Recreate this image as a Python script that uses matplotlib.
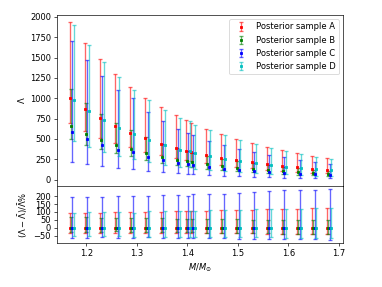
import numpy as np
import matplotlib
matplotlib.use("Agg")
import matplotlib.pyplot as plt
from matplotlib.colors import to_rgba

masses = [1.17, 1.20, 1.23, 1.26, 1.29, 1.32, 1.35, 1.38, 1.40, 1.41,
          1.44, 1.47, 1.50, 1.53, 1.56, 1.59, 1.62, 1.65, 1.68]
labels = ["Posterior sample A", "Posterior sample B",
          "Posterior sample C", "Posterior sample D"]
colors = ["r", "g", "b", "c"]
offsets = [-0.003, -0.001, 0.002, 0.005]

# medians of Lambda for each sample
med_A = [1004, 868, 757, 658, 576, 506, 440, 387, 355, 339, 301, 269, 237, 212, 188, 168, 150, 132, 120]
med_B = [658, 564, 490, 420, 379, 325, 275, 244, 222, 212, 188, 168, 148, 132, 117, 104, 93, 82, 74]
med_C = [584, 502, 428, 366, 337, 275, 235, 201, 190, 173, 154, 135, 118, 104, 92, 81, 72, 63, 57]
med_D = [975, 840, 728, 630, 564, 481, 420, 368, 345, 322, 286, 256, 225, 201, 179, 160, 142, 125, 114]

# relative upper / lower bounds in percent
up_A = [93, 94, 96, 97, 98, 99, 102, 104, 105, 106, 108, 110, 112, 114, 116, 118, 120, 122, 124]
lo_A = [-31, -31, -32, -31, -31, -33, -31, -32, -33, -33, -34, -34, -35, -35, -36, -36, -37, -37, -38]
up_B = [69, 68, 65, 65, 62, 60, 60, 58, 57, 56, 55, 54, 53, 52, 52, 51, 51, 50, 50]
lo_B = [-24, -25, -24, -23, -25, -25, -24, -26, -27, -28, -30, -31, -33, -34, -35, -36, -38, -39, -40]
up_C = [192, 194, 197, 200, 198, 202, 205, 207, 203, 214, 210, 216, 222, 226, 231, 237, 237, 241, 245]
lo_C = [-62, -62, -60, -61, -62, -60, -62, -62, -63, -64, -66, -67, -68, -69, -70, -71, -72, -73, -75]
up_D = [95, 97, 98, 100, 96, 103, 105, 106, 107, 108, 111, 113, 115, 116, 118, 119, 121, 122, 123]
lo_D = [-52, -53, -54, -54, -55, -56, -56, -57, -57, -58, -58, -59, -59, -60, -60, -61, -61, -62, -62]

meds = [med_A, med_B, med_C, med_D]
ups = [up_A, up_B, up_C, up_D]
los = [lo_A, lo_B, lo_C, lo_D]

fig = plt.figure(figsize=(382 / 60, 287 / 60), dpi=60)
gs = fig.add_gridspec(2, 1, height_ratios=[3, 1], hspace=0,
                      left=0.149, right=0.898, top=0.948, bottom=0.153)
ax1 = fig.add_subplot(gs[0])
ax2 = fig.add_subplot(gs[1], sharex=ax1)

m = np.array(masses)
for med, up, lo, c, lab, off in zip(meds, ups, los, colors, labels, offsets):
    med = np.array(med, float)
    up = np.array(up, float)
    lo = np.array(lo, float)
    hi_v = med * (1 + up / 100)
    lo_v = med * (1 + lo / 100)
    ec = to_rgba(c, 0.6)
    kw = dict(fmt='s', color=c, ecolor=ec, capsize=2.5, markersize=2.5,
              elinewidth=1.6, capthick=1.6)
    ax1.errorbar(m + off, med, yerr=[med - lo_v, hi_v - med], label=lab, **kw)
    ax2.errorbar(m + off, np.zeros_like(med), yerr=[-lo, up], **kw)

ax1.set_ylim(-80, 2025)
ax1.set_yticks([0, 250, 500, 750, 1000, 1250, 1500, 1750, 2000])
ax1.set_ylabel(r"$\Lambda$")
ax1.legend(loc="upper right")
plt.setp(ax1.get_xticklabels(), visible=False)

ax2.set_ylim(-96, 263)
ax2.set_yticks([-50, 0, 50, 100, 150, 200])
ax2.set_xlim(1.142, 1.708)
ax2.set_xticks([1.2, 1.3, 1.4, 1.5, 1.6, 1.7])
ax2.set_ylabel(r"$(\Lambda-\bar{\Lambda})/\bar{\Lambda}\%$")
ax2.set_xlabel(r"$M/M_{\odot}$")

fig.savefig("out.png", dpi=60)
